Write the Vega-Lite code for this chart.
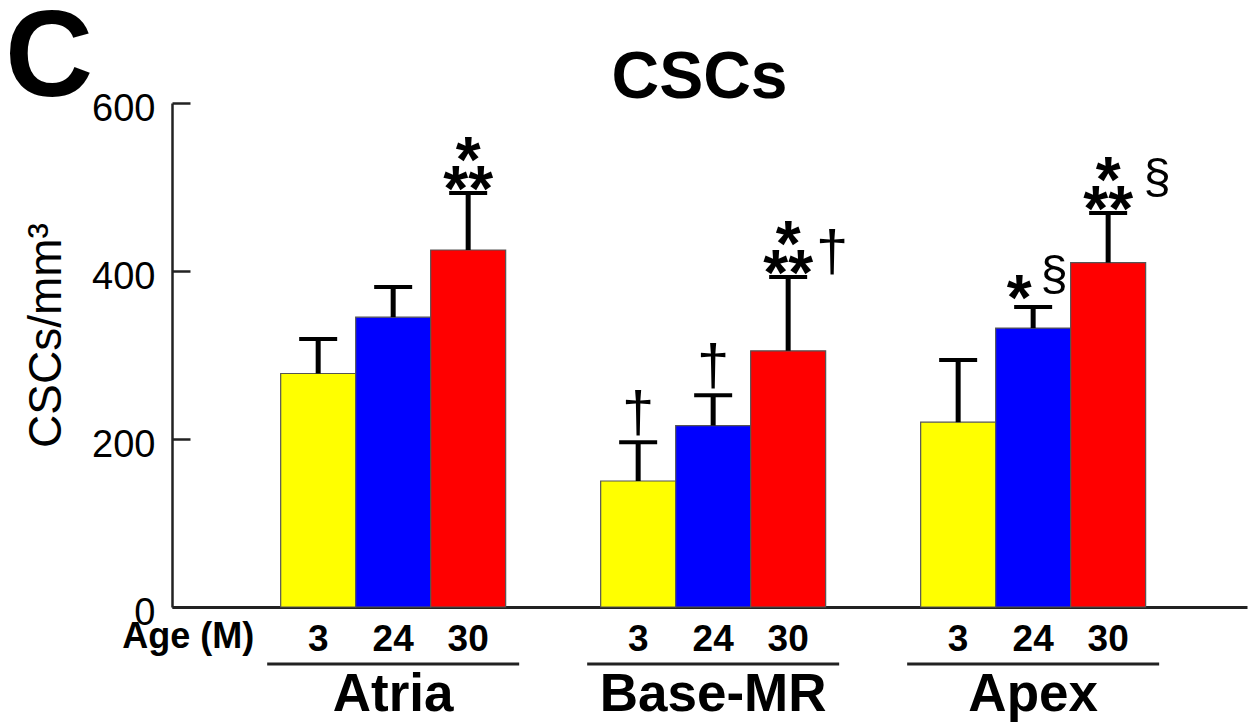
{
  "$schema": "https://vega.github.io/schema/vega-lite/v6.json",
  "autosize": {"type": "none"},
  "padding": {"left": 172, "top": 103, "right": 6, "bottom": 120},
  "width": 1075,
  "height": 504,
  "background": "white",
  "config": {"view": {"stroke": null}, "font": "Liberation Sans"},
  "title": {"text": "C", "anchor": "start", "frame": "bounds", "fontSize": 122, "fontWeight": "bold", "font": "Liberation Sans", "color": "#000", "dx": -18, "dy": 78, "offset": 0},
  "datasets": {
    "bars": [
      {"group": "Atria", "age": "3", "value": 278, "err": 319},
      {"group": "Atria", "age": "24", "value": 345, "err": 381},
      {"group": "Atria", "age": "30", "value": 425, "err": 493},
      {"group": "Base-MR", "age": "3", "value": 150, "err": 196},
      {"group": "Base-MR", "age": "24", "value": 216, "err": 252},
      {"group": "Base-MR", "age": "30", "value": 305, "err": 393},
      {"group": "Apex", "age": "3", "value": 220, "err": 294},
      {"group": "Apex", "age": "24", "value": 332, "err": 357},
      {"group": "Apex", "age": "30", "value": 410, "err": 469}
    ],
    "groups": [
      {"group": "Atria"}, {"group": "Base-MR"}, {"group": "Apex"}
    ],
    "agelabel": [
      {"group": "Atria", "age": "3", "label": "Age (M)"}
    ],
    "ann": [
      {"group": "Atria", "age": "30", "err": 493, "label": "**", "kind": "star2"},
      {"group": "Base-MR", "age": "30", "err": 393, "label": "**", "kind": "star2"},
      {"group": "Apex", "age": "30", "err": 469, "label": "**", "kind": "star2"},
      {"group": "Atria", "age": "30", "err": 493, "label": "*", "kind": "star1"},
      {"group": "Base-MR", "age": "30", "err": 393, "label": "*", "kind": "star1"},
      {"group": "Apex", "age": "30", "err": 469, "label": "*", "kind": "star1"},
      {"group": "Apex", "age": "24", "err": 357, "label": "*", "kind": "starL"},
      {"group": "Base-MR", "age": "3", "err": 196, "label": "†", "kind": "dagC"},
      {"group": "Base-MR", "age": "24", "err": 252, "label": "†", "kind": "dagC"},
      {"group": "Base-MR", "age": "30", "err": 393, "label": "†", "kind": "symB30"},
      {"group": "Apex", "age": "30", "err": 469, "label": "§", "kind": "symA30"},
      {"group": "Apex", "age": "24", "err": 357, "label": "§", "kind": "symA24"}
    ]
  },
  "encoding": {
    "x": {"field": "group", "type": "nominal", "sort": ["Atria", "Base-MR", "Apex"],
          "scale": {"paddingInner": 0.2125, "paddingOuter": 0.286, "align": 0.52}}
  },
  "resolve": {"axis": {"x": "independent"}},
  "layer": [
    {
      "data": {"name": "bars"},
      "mark": {"type": "bar", "stroke": "#555", "strokeWidth": 1.2},
      "encoding": {
        "x": {"field": "group", "type": "nominal", "sort": ["Atria", "Base-MR", "Apex"],
              "axis": {"orient": "bottom", "title": null, "ticks": false, "tickSize": 0, "labelAngle": 0, "labelLimit": 0,
                       "labelFontSize": 53, "labelFontWeight": "bold", "labelColor": "#000", "labelFont": "Liberation Sans",
                       "labelPadding": 61, "domainColor": "#222", "domainWidth": 3}},
        "xOffset": {"field": "age", "type": "nominal", "sort": ["3", "24", "30"],
                    "scale": {"paddingInner": 0, "paddingOuter": 0.18}},
        "y": {"field": "value", "type": "quantitative",
              "scale": {"domain": [0, 600], "nice": false},
              "axis": {"title": "CSCs/mm³", "titleFont": "Liberation Sans", "titleFontSize": 46, "titleFontWeight": "normal",
                       "titleColor": "#000", "titleX": -112, "titleY": 232, "titleBaseline": "alphabetic", "titleAngle": -90,
                       "values": [0, 200, 400, 600], "grid": false,
                       "labelFont": "Liberation Sans", "labelFontSize": 38, "labelColor": "#000",
                       "labelPadding": 35, "labelBaseline": "middle", "labelOffset": 6,
                       "tickSize": -18, "tickWidth": 2.5, "tickColor": "#222",
                       "domainColor": "#222", "domainWidth": 2.5}},
        "color": {"field": "age", "type": "nominal", "sort": ["3", "24", "30"],
                  "scale": {"domain": ["3", "24", "30"], "range": ["#FFFF00", "#0000FF", "#FF0000"]}, "legend": null}
      }
    },
    {
      "data": {"name": "bars"},
      "mark": {"type": "rule", "strokeWidth": 5, "color": "#000"},
      "encoding": {
        "x": {"field": "group", "type": "nominal", "sort": ["Atria", "Base-MR", "Apex"], "axis": null},
        "xOffset": {"field": "age", "type": "nominal", "sort": ["3", "24", "30"]},
        "y": {"field": "value", "type": "quantitative"},
        "y2": {"field": "err"}
      }
    },
    {
      "data": {"name": "bars"},
      "mark": {"type": "tick", "orient": "horizontal", "size": 38, "thickness": 4, "color": "#000", "opacity": 1},
      "encoding": {
        "x": {"field": "group", "type": "nominal", "sort": ["Atria", "Base-MR", "Apex"], "axis": null},
        "xOffset": {"field": "age", "type": "nominal", "sort": ["3", "24", "30"]},
        "y": {"field": "err", "type": "quantitative"}
      }
    },
    {
      "data": {"name": "bars"},
      "mark": {"type": "text", "fontSize": 37, "fontWeight": "bold", "baseline": "middle", "dy": 33, "color": "#000"},
      "encoding": {
        "x": {"field": "group", "type": "nominal", "sort": ["Atria", "Base-MR", "Apex"], "axis": null},
        "xOffset": {"field": "age", "type": "nominal", "sort": ["3", "24", "30"]},
        "y": {"datum": 0},
        "text": {"field": "age"}
      }
    },
    {
      "data": {"name": "agelabel"},
      "mark": {"type": "text", "fontSize": 36, "fontWeight": "bold", "baseline": "middle", "align": "right", "dx": -64, "dy": 30, "color": "#000"},
      "encoding": {
        "x": {"field": "group", "type": "nominal", "sort": ["Atria", "Base-MR", "Apex"], "axis": null},
        "xOffset": {"field": "age", "type": "nominal", "sort": ["3", "24", "30"]},
        "y": {"datum": 0},
        "text": {"field": "label"}
      }
    },
    {
      "data": {"name": "groups"},
      "mark": {"type": "tick", "orient": "horizontal", "size": 252, "thickness": 3, "color": "#222", "opacity": 1, "yOffset": 57},
      "encoding": {
        "x": {"field": "group", "type": "nominal", "sort": ["Atria", "Base-MR", "Apex"],
              "axis": {"orient": "top", "labels": false, "ticks": false, "domain": false, "title": "CSCs",
                       "titleFontSize": 66, "titleFontWeight": "bold", "titleColor": "#000", "titleFont": "Liberation Sans",
                       "titleX": 527, "titleY": -6, "titleBaseline": "alphabetic", "titleAlign": "center"}},
        "y": {"datum": 0}
      }
    },
    {
      "data": {"name": "ann"},
      "transform": [{"filter": "datum.kind === 'star2'"}],
      "mark": {"type": "text", "fontSize": 64, "fontWeight": "bold", "baseline": "middle", "dy": -1, "color": "#000"},
      "encoding": {
        "x": {"field": "group", "type": "nominal", "sort": ["Atria", "Base-MR", "Apex"], "axis": null},
        "xOffset": {"field": "age", "type": "nominal", "sort": ["3", "24", "30"]},
        "y": {"field": "err", "type": "quantitative"},
        "text": {"field": "label"}
      }
    },
    {
      "data": {"name": "ann"},
      "transform": [{"filter": "datum.kind === 'star1'"}],
      "mark": {"type": "text", "fontSize": 64, "fontWeight": "bold", "baseline": "middle", "dy": -30, "color": "#000"},
      "encoding": {
        "x": {"field": "group", "type": "nominal", "sort": ["Atria", "Base-MR", "Apex"], "axis": null},
        "xOffset": {"field": "age", "type": "nominal", "sort": ["3", "24", "30"]},
        "y": {"field": "err", "type": "quantitative"},
        "text": {"field": "label"}
      }
    },
    {
      "data": {"name": "ann"},
      "transform": [{"filter": "datum.kind === 'starL'"}],
      "mark": {"type": "text", "fontSize": 64, "fontWeight": "bold", "baseline": "middle", "dy": -6, "dx": -14, "color": "#000"},
      "encoding": {
        "x": {"field": "group", "type": "nominal", "sort": ["Atria", "Base-MR", "Apex"], "axis": null},
        "xOffset": {"field": "age", "type": "nominal", "sort": ["3", "24", "30"]},
        "y": {"field": "err", "type": "quantitative"},
        "text": {"field": "label"}
      }
    },
    {
      "data": {"name": "ann"},
      "transform": [{"filter": "datum.kind === 'dagC'"}],
      "mark": {"type": "text", "fontSize": 58, "baseline": "middle", "dy": -27, "color": "#000"},
      "encoding": {
        "x": {"field": "group", "type": "nominal", "sort": ["Atria", "Base-MR", "Apex"], "axis": null},
        "xOffset": {"field": "age", "type": "nominal", "sort": ["3", "24", "30"]},
        "y": {"field": "err", "type": "quantitative"},
        "text": {"field": "label"}
      }
    },
    {
      "data": {"name": "ann"},
      "transform": [{"filter": "datum.kind === 'symB30'"}],
      "mark": {"type": "text", "fontSize": 58, "baseline": "middle", "dy": -23, "dx": 44, "color": "#000"},
      "encoding": {
        "x": {"field": "group", "type": "nominal", "sort": ["Atria", "Base-MR", "Apex"], "axis": null},
        "xOffset": {"field": "age", "type": "nominal", "sort": ["3", "24", "30"]},
        "y": {"field": "err", "type": "quantitative"},
        "text": {"field": "label"}
      }
    },
    {
      "data": {"name": "ann"},
      "transform": [{"filter": "datum.kind === 'symA30'"}],
      "mark": {"type": "text", "fontSize": 49, "baseline": "middle", "dy": -35, "dx": 49, "color": "#000"},
      "encoding": {
        "x": {"field": "group", "type": "nominal", "sort": ["Atria", "Base-MR", "Apex"], "axis": null},
        "xOffset": {"field": "age", "type": "nominal", "sort": ["3", "24", "30"]},
        "y": {"field": "err", "type": "quantitative"},
        "text": {"field": "label"}
      }
    },
    {
      "data": {"name": "ann"},
      "transform": [{"filter": "datum.kind === 'symA24'"}],
      "mark": {"type": "text", "fontSize": 49, "baseline": "middle", "dy": -32, "dx": 21, "color": "#000"},
      "encoding": {
        "x": {"field": "group", "type": "nominal", "sort": ["Atria", "Base-MR", "Apex"], "axis": null},
        "xOffset": {"field": "age", "type": "nominal", "sort": ["3", "24", "30"]},
        "y": {"field": "err", "type": "quantitative"},
        "text": {"field": "label"}
      }
    }
  ]
}
